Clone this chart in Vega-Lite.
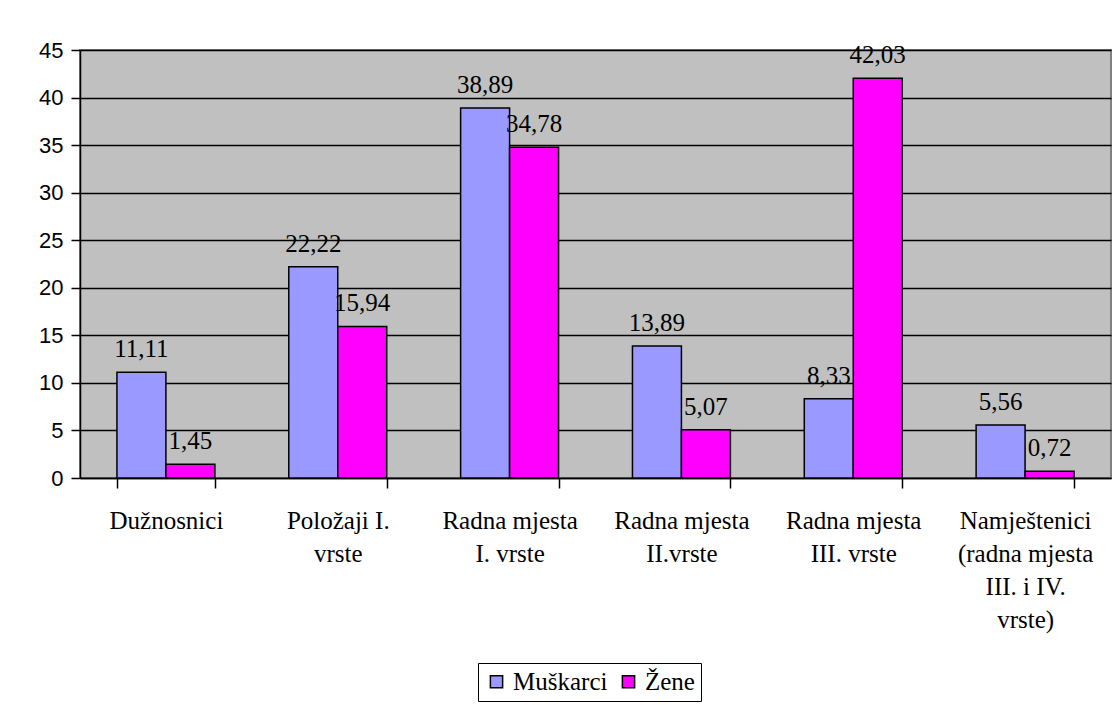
{
  "$schema": "https://vega.github.io/schema/vega-lite/v6.json",
  "width": 1031,
  "height": 428,
  "autosize": "none",
  "padding": {"left": 80, "top": 50, "right": 6, "bottom": 227},
  "background": "white",
  "config": {
    "locale": {"number": {"decimal": ",", "thousands": ".", "grouping": [3], "currency": ["", " €"]}},
    "view": {"fill": "#C0C0C0", "stroke": "#808080", "strokeWidth": 2}
  },
  "data": {
    "values": [
      {"kategorija": "Dužnosnici", "spol": "Muškarci", "postotak": 11.11},
      {"kategorija": "Dužnosnici", "spol": "Žene", "postotak": 1.45},
      {"kategorija": "Položaji I. vrste", "spol": "Muškarci", "postotak": 22.22},
      {"kategorija": "Položaji I. vrste", "spol": "Žene", "postotak": 15.94},
      {"kategorija": "Radna mjesta I. vrste", "spol": "Muškarci", "postotak": 38.89},
      {"kategorija": "Radna mjesta I. vrste", "spol": "Žene", "postotak": 34.78},
      {"kategorija": "Radna mjesta II.vrste", "spol": "Muškarci", "postotak": 13.89},
      {"kategorija": "Radna mjesta II.vrste", "spol": "Žene", "postotak": 5.07},
      {"kategorija": "Radna mjesta III. vrste", "spol": "Muškarci", "postotak": 8.33},
      {"kategorija": "Radna mjesta III. vrste", "spol": "Žene", "postotak": 42.03},
      {"kategorija": "Namještenici (radna mjesta III. i IV. vrste)", "spol": "Muškarci", "postotak": 5.56},
      {"kategorija": "Namještenici (radna mjesta III. i IV. vrste)", "spol": "Žene", "postotak": 0.72}
    ]
  },
  "encoding": {
    "x": {
      "field": "kategorija",
      "type": "nominal",
      "sort": null,
      "scale": {"paddingInner": 0.43, "paddingOuter": 0.215},
      "axis": {
        "title": null,
        "labelAngle": 0,
        "tickBand": "extent",
        "tickSize": 10,
        "tickColor": "black",
        "tickWidth": 1.5,
        "domainColor": "black",
        "domainWidth": 1.5,
        "labelFont": "Liberation Serif",
        "labelFontSize": 25,
        "labelColor": "black",
        "labelPadding": 20,
        "labelLineHeight": 33,
        "labelLimit": 0,
        "labelExpr": "datum.label == 'Položaji I. vrste' ? ['Položaji I.', 'vrste'] : datum.label == 'Radna mjesta I. vrste' ? ['Radna mjesta', 'I. vrste'] : datum.label == 'Radna mjesta II.vrste' ? ['Radna mjesta', 'II.vrste'] : datum.label == 'Radna mjesta III. vrste' ? ['Radna mjesta', 'III. vrste'] : datum.label == 'Namještenici (radna mjesta III. i IV. vrste)' ? ['Namještenici', '(radna mjesta', 'III. i IV.', 'vrste)'] : datum.label"
      }
    },
    "xOffset": {"field": "spol", "type": "nominal", "scale": {"paddingInner": 0, "paddingOuter": 0}},
    "y": {
      "field": "postotak",
      "type": "quantitative",
      "scale": {"domain": [0, 45], "nice": false},
      "axis": {
        "title": null,
        "values": [0, 5, 10, 15, 20, 25, 30, 35, 40, 45],
        "grid": true,
        "gridColor": "black",
        "gridWidth": 1.5,
        "gridOpacity": 1,
        "tickSize": 9,
        "tickColor": "black",
        "tickWidth": 1.5,
        "domainColor": "black",
        "domainWidth": 1.5,
        "labelFont": "Liberation Sans",
        "labelFontSize": 22,
        "labelColor": "black",
        "labelPadding": 8
      }
    }
  },
  "layer": [
    {
      "mark": {"type": "bar", "stroke": "black", "strokeWidth": 1.5},
      "encoding": {
        "color": {
          "field": "spol",
          "type": "nominal",
          "scale": {"domain": ["Muškarci", "Žene"], "range": ["#9999FF", "#FF00FF"]},
          "legend": {
            "title": null,
            "orient": "none",
            "legendX": 398,
            "legendY": 613,
            "direction": "horizontal",
            "symbolType": "square",
            "symbolSize": 150,
            "symbolStrokeColor": "black",
            "symbolStrokeWidth": 1.5,
            "symbolOpacity": 1,
            "labelFont": "Liberation Serif",
            "labelFontSize": 25,
            "labelColor": "black",
            "labelOffset": 4,
            "columnPadding": 8,
            "strokeColor": "black",
            "fillColor": "white",
            "padding": 6
          }
        }
      }
    },
    {
      "mark": {"type": "text", "baseline": "bottom", "dy": -10, "font": "Liberation Serif", "fontSize": 25, "color": "black"},
      "encoding": {
        "text": {"field": "postotak", "type": "quantitative", "format": ".2f"}
      }
    }
  ]
}
